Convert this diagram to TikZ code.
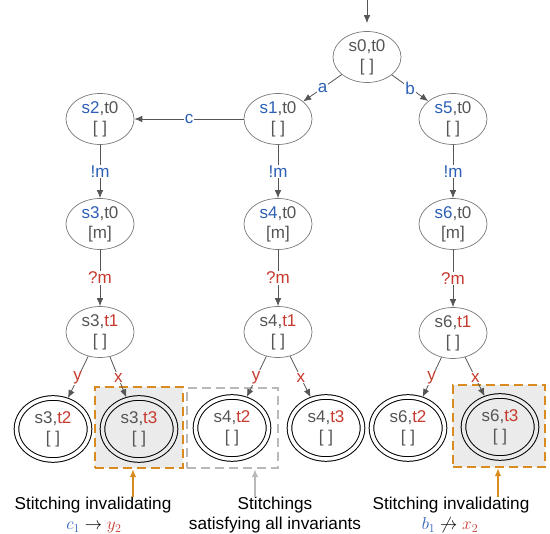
\documentclass[tikz,border=0pt]{standalone}
\usepackage{fontspec}
\setmainfont{Liberation Sans}
\usetikzlibrary{arrows.meta,shapes.geometric}

\definecolor{sblue}{HTML}{2C5FB5}
\definecolor{tred}{HTML}{C63A2E}
\definecolor{txtgray}{HTML}{555555}
\definecolor{edgegray}{HTML}{555555}
\definecolor{ringgray}{HTML}{7A7A7A}
\definecolor{hiorange}{HTML}{D98B1F}
\definecolor{okgray}{HTML}{B9B9B9}
\definecolor{boxfill}{HTML}{EBEBEB}

\newcommand{\sblu}[1]{\textcolor{sblue}{#1}}
\newcommand{\tred}[1]{\textcolor{tred}{#1}}

\tikzset{
  txt/.style={font=\fontsize{17}{20}\selectfont},
  state/.style={ellipse, draw=ringgray, line width=0.7pt, minimum width=68pt,
    minimum height=51pt, inner sep=0pt, align=center, text=txtgray, txt},
  final/.style={ellipse, draw=black, line width=1pt, double=white,
    double distance=3.6pt, minimum width=73pt, minimum height=62pt,
    inner sep=0pt, align=center, text=txtgray, txt},
  trans/.style={draw=edgegray, line width=0.8pt,
    -{Latex[length=8pt,width=6.5pt]}},
  lbl/.style={fill=white, inner sep=1pt, txt, midway},
  hibox/.style={draw=hiorange, line width=2.4pt, dash pattern=on 9pt off 5pt,
    fill=boxfill, inner sep=0pt},
  okbox/.style={draw=okgray, line width=2.4pt, dash pattern=on 9pt off 5pt,
    inner sep=0pt},
  note/.style={anchor=base, inner sep=0pt, text=black,
    font=\fontsize{17.2}{20}\selectfont},
  formula/.style={anchor=base, inner sep=0pt, font=\fontsize{18}{21}\selectfont},
  pointer/.style={line width=1.1pt, -{Latex[length=8pt,width=6.5pt]}},
}

\begin{document}
\begin{tikzpicture}[x=1pt, y=-1pt]
\useasboundingbox (0,0) rectangle (550,534);

% highlighted stitchings
\node[hibox, minimum width=88pt, minimum height=81pt] (box1) at (139,427.5) {};
\node[okbox, minimum width=91pt, minimum height=80pt] (box2) at (232.5,428) {};
\node[hibox, minimum width=92pt, minimum height=82pt] (box3) at (499,426) {};

% product states
\node[state] (s0t0) at (367,57) {s0,t0\\{}[ ]};
\node[state] (s1t0) at (278,119) {\sblu{s1},t0\\{}[ ]};
\node[state] (s2t0) at (100,119) {\sblu{s2},t0\\{}[ ]};
\node[state] (s5t0) at (453,119) {\sblu{s5},t0\\{}[ ]};
\node[state] (s3t0) at (100,224) {\sblu{s3},t0\\{}[m]};
\node[state] (s4t0) at (278,224) {\sblu{s4},t0\\{}[m]};
\node[state] (s6t0) at (453,224) {\sblu{s6},t0\\{}[m]};
\node[state] (s3t1) at (100,332) {s3,\tred{t1}\\{}[ ]};
\node[state] (s4t1) at (278,332) {s4,\tred{t1}\\{}[ ]};
\node[state] (s6t1) at (453,333) {s6,\tred{t1}\\{}[ ]};

\node[final] (s3t2) at (53,429) {s3,\tred{t2}\\{}[ ]};
\node[final, double=boxfill] (s3t3) at (139,429) {s3,\tred{t3}\\{}[ ]};
\node[final] (s4t2) at (232,428) {s4,\tred{t2}\\{}[ ]};
\node[final] (s4t3) at (326,428) {s4,\tred{t3}\\{}[ ]};
\node[final] (s6t2) at (408,428) {s6,\tred{t2}\\{}[ ]};
\node[final, double=boxfill] (s6t3) at (500,427) {s6,\tred{t3}\\{}[ ]};

% initial arrow
\coordinate (init) at (367,0);
\draw[trans, shorten >=8pt] (init) -- (s0t0);

% transitions
\draw[trans] (s0t0) -- node[lbl, text=sblue] {a} (s1t0);
\draw[trans] (s0t0) -- node[lbl, text=sblue] {b} (s5t0);
\draw[trans] (s1t0) -- node[lbl, text=sblue] {c} (s2t0);
\draw[trans] (s2t0) -- node[lbl, text=sblue] {!m} (s3t0);
\draw[trans] (s1t0) -- node[lbl, text=sblue] {!m} (s4t0);
\draw[trans] (s5t0) -- node[lbl, text=sblue] {!m} (s6t0);
\draw[trans] (s3t0) -- node[lbl, text=tred] {?m} (s3t1);
\draw[trans] (s4t0) -- node[lbl, text=tred] {?m} (s4t1);
\draw[trans] (s6t0) -- node[lbl, text=tred] {?m} (s6t1);
\draw[trans, shorten >=2pt] (s3t1) -- node[lbl, text=tred] {y} (s3t2);
\draw[trans, shorten >=2pt] (s3t1) -- node[lbl, text=tred] {x} (s3t3);
\draw[trans, shorten >=2pt] (s4t1) -- node[lbl, text=tred] {y} (s4t2);
\draw[trans, shorten >=2pt] (s4t1) -- node[lbl, text=tred] {x} (s4t3);
\draw[trans, shorten >=2pt] (s6t1) -- node[lbl, text=tred] {y} (s6t2);
\draw[trans, shorten >=2pt] (s6t1) -- node[lbl, text=tred] {x} (s6t3);

% annotations
\node[note] (n1) at (93,510) {Stitching invalidating};
\node[formula] (f1) at (94,529.5)
  {$\textcolor{sblue}{c_1}\rightarrow\textcolor{tred}{y_2}$};
\node[note] (n2) at (275,510) {Stitchings};
\node[note] (n2b) at (275,529.5) {satisfying all invariants};
\node[note] (n3) at (451,510) {Stitching invalidating};
\node[formula] (f3) at (450,529.5)
  {$\textcolor{sblue}{b_1}\not\rightarrow\textcolor{tred}{x_2}$};

\coordinate (p1) at (133,497);
\coordinate (p2) at (255,497);
\coordinate (p3) at (498,497);
\draw[pointer, draw=hiorange] (p1) -- (p1 |- box1.south);
\draw[pointer, draw=okgray] (p2) -- (p2 |- box2.south);
\draw[pointer, draw=hiorange] (p3) -- (p3 |- box3.south);
\end{tikzpicture}
\end{document}
